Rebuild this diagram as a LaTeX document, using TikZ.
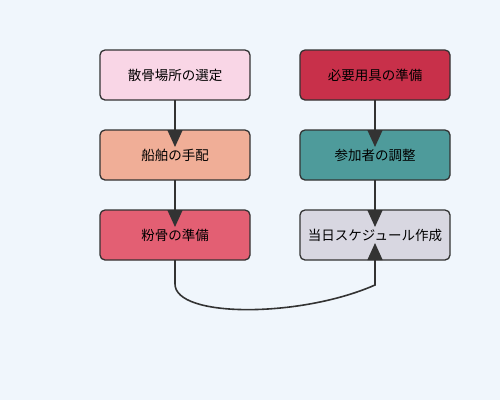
\documentclass[tikz,border=0pt]{standalone}
\usepackage{fontspec}
\setmainfont{Noto Sans CJK JP}
\usepackage{xcolor}
\usepackage{tikz}
\usetikzlibrary{arrows.meta, positioning, calc}

\definecolor{bgblue}{HTML}{F0F6FC}
\definecolor{edgegray}{HTML}{333333}
\definecolor{sitepink}{HTML}{F9D6E6}
\definecolor{boatsalmon}{HTML}{F0AE97}
\definecolor{powderrose}{HTML}{E35F73}
\definecolor{toolred}{HTML}{C8304A}
\definecolor{guestteal}{HTML}{4E9B9B}
\definecolor{planlilac}{HTML}{D8D7E1}

\begin{document}
\begin{tikzpicture}[x=1pt, y=-1pt,
    stepbox/.style={rectangle, rounded corners=5pt, draw=edgegray, line width=1.3pt, outer sep=0pt, minimum width=150pt, minimum height=50pt, text centered, inner sep=2pt, font=\fontsize{13.5pt}{16pt}\selectfont},
    flow/.style={draw=edgegray, line width=1.6pt, -{Triangle[length=17pt, width=15pt]}}]

    \fill [bgblue] (0,0) rectangle (500,400);
    \useasboundingbox (0,0) rectangle (500,400);

    \node [stepbox, fill=sitepink] (site) at (175,75) {散骨場所の選定};
    \node [stepbox, fill=boatsalmon, below=30pt of site] (boat) {船舶の手配};
    \node [stepbox, fill=powderrose, below=30pt of boat] (powder) {粉骨の準備};

    \node [stepbox, fill=toolred] (tools) at (375,75) {必要用具の準備};
    \node [stepbox, fill=guestteal, below=30pt of tools] (guests) {参加者の調整};
    \node [stepbox, fill=planlilac, below=30pt of guests] (plan) {当日スケジュール作成};

    \coordinate (turnL) at ([yshift=-24pt]powder.south);
    \coordinate (turnR) at ([yshift=-25pt]plan.south);

    \path [flow] (site.south) -- ([yshift=-17pt]boat.north);
    \path [flow] (boat.south) -- ([yshift=-17pt]powder.north);
    \path [flow] (tools.south) -- ([yshift=-17pt]guests.north);
    \path [flow] (guests.south) -- ([yshift=-17pt]plan.north);
    \path [flow] (powder.south) -- (turnL) .. controls ($(turnL)+(0,34)$) and ($(turnR)+(-75,33)$) .. (turnR) -- ([yshift=17pt]plan.south);
\end{tikzpicture}
\end{document}
